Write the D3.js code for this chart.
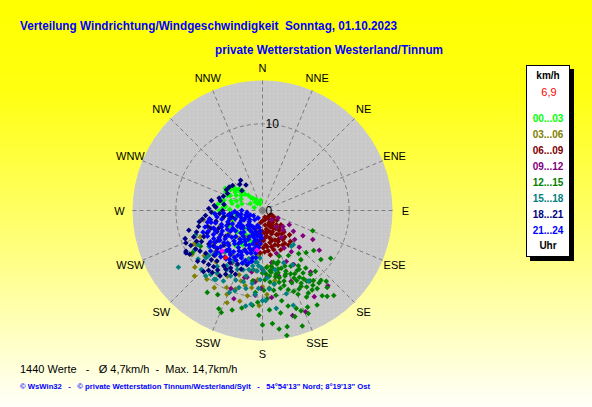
<!DOCTYPE html>
<html>
<head>
<meta charset="utf-8">
<script src="https://cdn.jsdelivr.net/npm/d3@7"></script>
<style>
  body { margin: 0; background: #fff; }
  svg { display: block; font-family: "Liberation Sans", Arial, sans-serif; }
  text { white-space: pre; }
</style>
</head>
<body>
<svg width="592" height="407"></svg>
<script>
// compass labels, 16 sectors
var dirLabels = ["N","NNE","NE","ENE","E","ESE","SE","SSE","S","SSW","SW","WSW","W","WNW","NW","NNW"];
var ringTicks = [0, 10];
var hourLabels = ["00...03","03...06","06...09","09...12","12...15","15...18","18...21","21...24"];
var hourColors = ["#00ff00","#808000","#800000","#800080","#008000","#008080","#000080","#0000ff"];
var currentSpeed = "6,9";

// [direction deg, speed km/h], one list per 3 hours
var p0003 = [[295,4.1],[307,3.9],[310,3.35],[313,2.75],[317,2.4],[320,1.3],[283,3.6],[276,4.3],[267,5.6],[261,4.5],
  [300,3.5],[303,4.4],[298,2.8],[305,3.0],[312,3.7],[315,3.2],[318,2.0],[322,1.8],[325,1.0],[330,1.5],
  [290,3.2],[288,2.5],[280,2.9],[285,4.6],[272,3.8],[270,5.0],[265,3.2],[258,3.0],[252,3.6],[245,4.2],
  [240,3.0],[235,4.8],[230,3.8],[226,4.4],[222,2.8],[218,5.1],[214,3.4],[210,4.6],[205,3.0],[200,3.8],
  [195,2.6],[340,0.8],[350,1.2],[300,1.6],[290,1.0],[304,3.8],[309,4.2],[297,4.8],[301,5.0],[306,4.6],
  [293,4.4],[287,3.8],[282,4.8],[278,5.2],[274,4.6]];
var p0306 = [[261,6.9],[244,8.8],[243,8.6],[236,6.8],[230,10.2],[226,10.9],[229,7.2],[222,8.0],[215,9.0],[210,6.5],
  [205,9.8],[203,10.5],[201,11.4],[200,7.9],[197,8.5],[193,8.9],[190,10.0],[186,7.0],[182,11.0],[177,9.7],
  [185,5.2],[195,5.8],[205,5.0],[215,6.2],[225,5.5],[235,4.8],[240,5.6],[250,5.2],[255,3.8],[220,4.2],
  [210,3.6],[190,4.0],[175,6.5],[170,8.2],[180,8.8],[247,7.8],[238,9.6],[232,8.5],[219,10.2],[212,10.5],
  [208,8.6],[199,9.6],[194,10.8],[188,9.0],[184,8.0],[223,6.5],[230,5.9]];
var p0609 = [[116,1.2],[124,2.0],[130,1.6],[136,2.3],[140,3.0],[142,1.4],[145,4.1],[147,3.3],[149,2.4],[150,3.2],
  [153,4.0],[155,2.7],[158,1.8],[160,4.2],[162,3.6],[165,3.3],[166,4.3],[168,2.2],[170,1.7],[171,3.0],
  [173,4.2],[175,2.6],[178,3.5],[180,1.2],[183,4.9],[186,2.8],[190,3.8],[193,4.6],[196,2.0],[150,4.6],
  [140,4.0],[135,3.5],[145,1.0],[160,0.8],[155,5.0],[170,5.2],[177,4.8],[185,3.5],[165,1.1],[128,2.7],
  [132,4.2],[138,4.8],[143,5.0],[152,1.6],[163,2.5],[188,1.4],[120,1.5],[157,3.7],[148,2.0],[175,4.0],
  [126,1.0],[134,2.8],[139,1.8],[144,2.6],[151,3.8],[156,4.4],[159,2.9],[164,4.7],[167,3.8],[169,2.6],
  [172,4.7],[176,3.2],[179,4.3],[181,2.4],[184,3.9],[187,4.4],[191,2.6],[146,4.6],[141,3.5],[154,2.1]];
var p0912 = [[136,1.5],[116,2.0],[133,3.3],[124,4.3],[122,5.5],[120,6.7],[139,11.5],[149,11.6],[157,12.7],[164,12.6],
  [202,9.7],[198,10.7],[186,8.3],[174,10.1],[128,3.0],[140,2.5],[145,3.8],[150,5.0],[162,5.2],[170,6.1],
  [176,7.6],[187,8.2],[193,7.9],[155,6.5],[180,6.8],[190,7.2],[195,8.0],[185,9.8],[210,7.0],[150,7.2],
  [142,9.0],[135,6.0],[125,8.0],[158,8.8],[166,7.8],[181,9.0],[145,5.8],[132,5.0],[118,3.5]];
var p1215 = [[112,6.25],[134,7.0],[142,7.2],[139,9.3],[143,12.4],[140,12.8],[180,13.2],[175,13.1],[172,13.8],[168,13.7],
  [169,14.7],[161,14.1],[159,12.4],[155,12.3],[161,11.95],[165,11.4],[168,10.65],[204,12.4],[202,12.7],[214,11.4],
  [239,9.4],[240,8.25],[170,6.8],[168,7.5],[166,8.0],[172,7.2],[174,8.3],[165,7.0],[163,8.5],[160,7.8],
  [158,9.0],[155,8.6],[152,9.5],[150,10.2],[148,10.8],[146,9.8],[150,8.0],[145,11.0],[153,11.2],[157,10.5],
  [162,9.6],[167,9.2],[171,9.9],[175,9.0],[178,8.0],[180,7.2],[176,6.6],[163,6.2],[158,6.9],[153,7.2],
  [147,7.6],[143,8.3],[140,10.5],[138,11.0],[145,12.0],[150,12.6],[156,13.0],[163,12.8],[170,12.0],[176,11.5],
  [182,12.1],[185,9.5],[188,8.2],[192,11.5],[197,12.0],[208,11.0],[160,5.6],[150,6.0],[140,6.5],[130,8.8],
  [125,9.6],[128,7.5],[148,9.6],[154,9.0],[153,9.8],[148,8.0],[143,9.2],[146,10.4],[151,10.9],[169,7.8],
  [171,8.6],[166,7.4],[173,7.0],[164,9.0],[165,6.4],[168,6.1],[171,6.5],[174,7.6],[177,7.3],[162,7.0],
  [159,7.5],[156,8.0],[153,8.2],[151,8.8],[149,9.2],[147,8.6],[144,10.0],[142,10.6],[140,11.6],[155,10.0],
  [159,10.0],[161,8.0],[167,8.5],[172,9.3],[177,10.2],[179,9.2],[183,10.6],[186,11.0]];
var p1518 = [[236,11.7],[219,9.5],[215,9.7],[230,8.1],[219,8.3],[206,8.4],[199,9.8],[190,11.2],[187,10.9],[180,10.4],
  [172,11.4],[138,5.3],[147,9.7],[162,11.5],[189,6.9],[141,5.3],[151,7.15],[171,8.6],[164,10.0],[230,8.5],
  [214,9.6],[213,7.6],[209,9.3],[203,7.4],[200,6.4],[183,5.5],[186,6.0],[190,6.5],[193,7.0],[196,5.8],
  [198,7.2],[185,7.0],[181,6.6],[178,10.4],[225,7.0],[222,6.4],[217,6.0],[210,6.8],[206,5.8],[195,8.5],
  [192,9.2],[176,7.8],[168,7.0],[158,6.5],[236,7.45],[240,9.0],[250,8.2],[226,9.8],[202,10.2],[183,9.0],
  [205,7.0],[201,8.6],[197,9.3],[194,7.8],[188,8.5],[185,9.7],[182,8.0],[179,7.0],[175,9.1],[211,8.0],
  [216,8.9],[221,10.0],[228,7.6],[233,9.3],[242,8.4],[188,6.0],[191,5.5],[184,6.4]];
var p1821 = [[319,4.0],[324,4.3],[327,3.5],[314,3.3],[274,5.4],[270,4.6],[266,4.95],[261,4.5],[260,6.1],[257,5.5],
  [254,6.6],[251,6.3],[250,6.0],[249,4.2],[248,6.9],[248,5.45],[246,7.4],[244,9.2],[242,10.0],[241,10.1],
  [240,8.9],[238,7.3],[236,6.2],[233,8.2],[230,6.8],[227,7.6],[225,8.8],[222,9.3],[222,7.85],[219,9.2],
  [215,7.8],[213,9.0],[212,8.0],[212,7.1],[209,7.6],[205,6.8],[200,7.2],[196,6.5],[264,3.8],[258,3.6],
  [245,5.8],[235,5.2],[228,6.0],[262,7.0],[268,5.9],[279,4.5],[283,5.0],[245,8.4],[232,9.5],[256,7.6],
  [252,8.0],[249,8.5],[247,9.6],[243,7.9],[239,9.8],[237,8.6],[234,7.0],[229,9.0],[226,8.2],[224,9.8],
  [221,8.6],[217,8.6],[210,8.5],[207,7.9],[203,8.0],[272,6.2],[276,5.6],[281,6.0],[286,5.2],[290,4.8],
  [296,4.5],[300,4.8],[305,4.7],[310,4.5],[265,6.6],[260,7.4],[255,8.8],[250,9.5]];
var p2124 = [[262,5.3],[258,4.8],[255,5.6],[252,4.2],[250,6.0],[248,5.1],[246,3.8],[244,6.3],[242,4.6],[240,5.5],
  [238,3.4],[236,6.6],[234,4.9],[232,2.9],[230,5.8],[228,7.1],[226,4.3],[224,3.6],[222,6.2],[220,5.0],
  [218,2.6],[216,4.7],[214,6.8],[212,3.9],[210,5.4],[208,2.2],[206,4.4],[204,6.0],[202,3.1],[200,5.2],
  [198,1.8],[196,4.0],[194,2.8],[192,5.6],[190,3.5],[188,4.6],[186,2.4],[184,3.8],[250,1.5],[240,1.2],
  [230,2.0],[220,1.4],[210,1.0],[260,2.5],[245,2.7],[235,1.8],[225,2.4],[264,3.6],[259,2.9],[253,3.3],
  [247,2.1],[241,3.0],[233,3.9],[227,5.5],[221,3.3],[215,5.8],[209,4.1],[203,2.3],[197,3.3],[191,2.0],
  [257,6.1],[249,6.7],[239,7.0],[229,6.4],[219,6.9],[211,6.3],[205,5.7],[199,6.1],[193,4.6],[187,3.0],
  [266,4.5],[268,3.2],[270,2.4],[263,1.8],[255,2.0],[237,4.4],[231,3.2],[223,4.8],[217,3.7],[213,2.7],
  [207,3.4],[201,4.3],[195,5.1],[189,5.0],[261,6.2],[256,3.9],[251,5.0],[246,5.9],[243,2.4],[239,4.0],
  [235,6.0],[232,6.9],[228,3.0],[225,6.8],[221,5.9],[218,4.2],[216,6.3],[213,5.1],[211,2.2],[208,6.5],
  [206,3.7],[204,5.0],[201,6.5],[199,4.6],[197,2.6],[194,3.6],[192,6.0],[190,4.2],[188,5.5],[186,4.3],
  [184,2.9],[182,3.2],[252,2.6],[248,1.7],[243,5.2],[238,5.9],[234,3.0],[229,4.7],[224,5.6],[220,2.2],
  [214,4.4],[209,5.9],[205,2.8],[200,3.0],[196,4.8],[191,3.0],[266,5.5],[262,4.0],[258,6.5],[254,6.9],
  [250,7.3],[245,7.0],[240,6.5],[236,7.3],[232,7.6],[227,7.4],[222,7.2],[217,7.0],[263,2.9],[247,4.5],
  [233,5.4],[219,6.1],[207,5.4],[195,6.3]];
var pMarked = [[225,6.6],[188,4.6]];
var pCurrent = [[218,6.9]];

var groups = [p0003, p0306, p0609, p0912, p1215, p1518, p1821, p2124];

var svg = d3.select("svg"),
    width = +svg.attr("width"),
    height = +svg.attr("height"),
    cx = 262.5, cy = 210.5;

var defs = svg.append("defs");
var grad = defs.append("linearGradient").attr("id", "bg")
    .attr("x1", 0).attr("y1", 0).attr("x2", 0).attr("y2", 1);
grad.append("stop").attr("offset", "0%").attr("stop-color", "#ffff00");
grad.append("stop").attr("offset", "22%").attr("stop-color", "#ffff10");
grad.append("stop").attr("offset", "62%").attr("stop-color", "#ffff80");
grad.append("stop").attr("offset", "100%").attr("stop-color", "#fffffa");

var pat = defs.append("pattern").attr("id", "dots")
    .attr("width", 4).attr("height", 4).attr("patternUnits", "userSpaceOnUse");
pat.append("rect").attr("width", 4).attr("height", 4).attr("fill", "#c9c9c9");
pat.append("rect").attr("x", 1).attr("y", 1).attr("width", 1).attr("height", 1).attr("fill", "#d6d6d6");

svg.append("rect").attr("width", width).attr("height", height).attr("fill", "url(#bg)");

// titles
svg.append("text").attr("x", 20).attr("y", 30)
   .attr("textLength", 377).attr("lengthAdjust", "spacingAndGlyphs")
   .style("font-size", "12.5px").style("font-weight", "bold").attr("fill", "#0000ff")
   .text("Verteilung Windrichtung/Windgeschwindigkeit  Sonntag, 01.10.2023");
svg.append("text").attr("x", 215).attr("y", 54)
   .attr("textLength", 228).attr("lengthAdjust", "spacingAndGlyphs")
   .style("font-size", "12.5px").style("font-weight", "bold").attr("fill", "#0000ff")
   .text("private Wetterstation Westerland/Tinnum");

var r = d3.scaleLinear().domain([0, 15]).range([0, 130]);
var ang = d3.scaleLinear().domain([0, 360]).range([0, 2 * Math.PI]);

function px(d) { return cx + r(d[1]) * Math.sin(ang(d[0])); }
function py(d) { return cy - r(d[1]) * Math.cos(ang(d[0])); }

var g = svg.append("g");

g.append("circle").attr("cx", cx).attr("cy", cy).attr("r", r(15)).attr("fill", "url(#dots)");

// spokes
g.selectAll(".spoke").data(dirLabels).enter().append("line")
   .attr("class", "spoke")
   .attr("x1", cx).attr("y1", cy)
   .attr("x2", function(d, i) { return px([i * 22.5, 15]); })
   .attr("y2", function(d, i) { return py([i * 22.5, 15]); })
   .attr("stroke", "#7d7d7d").attr("stroke-dasharray", "4,3");

g.selectAll(".ring").data(ringTicks.filter(function(t) { return t > 0; })).enter().append("circle")
   .attr("class", "ring")
   .attr("cx", cx).attr("cy", cy).attr("r", function(d) { return r(d); })
   .attr("fill", "none").attr("stroke", "#7d7d7d").attr("stroke-dasharray", "4,3");

g.selectAll(".dirlab").data(dirLabels).enter().append("text")
   .attr("class", "dirlab")
   .attr("x", function(d, i) { return px([i * 22.5, 16.5]); })
   .attr("y", function(d, i) { return py([i * 22.5, 16.5]); })
   .attr("text-anchor", "middle").attr("dominant-baseline", "central")
   .style("font-size", "11px").attr("fill", "#000")
   .text(function(d) { return d; });

// points
var diamond = "M0,-2.8L2.8,0L0,2.8L-2.8,0Z";
groups.forEach(function(pts, k) {
  g.append("g").selectAll("path").data(pts).enter().append("path")
     .attr("d", diamond)
     .attr("transform", function(d) { return "translate(" + px(d) + "," + py(d) + ")"; })
     .attr("fill", hourColors[k]);
});
g.append("g").selectAll("path").data(pMarked).enter().append("path")
   .attr("d", diamond)
   .attr("transform", function(d) { return "translate(" + px(d) + "," + py(d) + ")"; })
   .attr("fill", "#ff00ff");
g.append("g").selectAll("path").data(pCurrent).enter().append("path")
   .attr("d", diamond)
   .attr("transform", function(d) { return "translate(" + px(d) + "," + py(d) + ")"; })
   .attr("fill", "#ff0000");

// ring tick labels
g.selectAll(".tick").data(ringTicks).enter().append("text")
   .attr("class", "tick")
   .attr("x", cx + 3)
   .attr("y", function(d) { return cy - r(d); })
   .attr("dominant-baseline", "central")
   .style("font-size", "12px").attr("fill", "#000")
   .text(function(d) { return d; });

// legend
var lg = svg.append("g");
lg.append("rect").attr("x", 530).attr("y", 69).attr("width", 44).attr("height", 192).attr("fill", "#000");
lg.append("rect").attr("x", 526.5).attr("y", 65.5).attr("width", 43).attr("height", 191)
   .attr("fill", "#fff").attr("stroke", "#000");
lg.append("text").attr("x", 548).attr("y", 79).attr("text-anchor", "middle")
   .style("font-size", "10px").style("font-weight", "bold").text("km/h");
lg.append("text").attr("x", 549).attr("y", 96).attr("text-anchor", "middle")
   .style("font-size", "11px").attr("fill", "#ff0000").text(currentSpeed);
lg.selectAll(".hl").data(hourLabels).enter().append("text")
   .attr("class", "hl")
   .attr("x", 548)
   .attr("y", function(d, i) { return 122 + i * 16; })
   .attr("text-anchor", "middle")
   .style("font-size", "10px").style("font-weight", "bold")
   .attr("fill", function(d, i) { return hourColors[i]; })
   .text(function(d) { return d; });
lg.append("text").attr("x", 548).attr("y", 249).attr("text-anchor", "middle")
   .style("font-size", "10px").style("font-weight", "bold").text("Uhr");

// footer
svg.append("text").attr("x", 20).attr("y", 373)
   .style("font-size", "11px").attr("fill", "#000")
   .text("1440 Werte   -   \u00d8 4,7km/h  -  Max. 14,7km/h");
svg.append("text").attr("x", 20).attr("y", 389)
   .attr("textLength", 350).attr("lengthAdjust", "spacingAndGlyphs")
   .style("font-size", "8px").style("font-weight", "bold").attr("fill", "#0000ff")
   .text("\u00a9 WsWin32   -   \u00a9 private Wetterstation Tinnum/Westerland/Sylt   -   54\u00b054'13\" Nord; 8\u00b019'13\" Ost");
</script>
</body>
</html>
